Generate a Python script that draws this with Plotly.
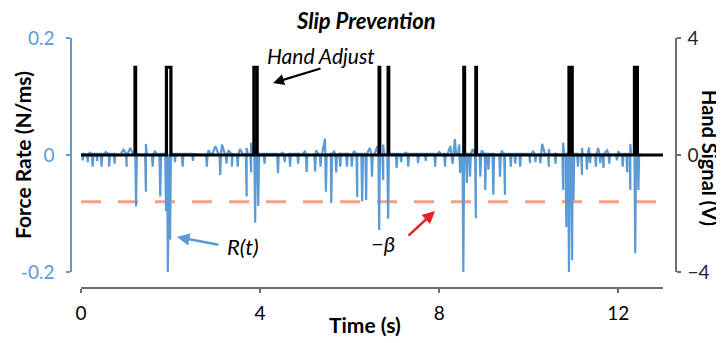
import plotly.graph_objects as go

OFF = 8  # page body margin
W, H = 724 - OFF, 343 - OFF
FONT = "Lato, 'Open Sans', sans-serif"
BLUE = "#5B9BD5"
SALMON = "#F79F81"
GREY = "#6E6E6E"

# ---------------- data ----------------
x_ticks = [0, 4, 8, 12]
y1_ticks = [-0.2, 0, 0.2]
y1_ticktext = ["-0.2", "0", "0.2"]
y2_ticks = [-4, 0, 4]

beta = 0.08

# hand signal pulses (s) and level (V)
pulse_start = [1.206, 1.908, 3.862, 6.659, 6.860, 8.550, 8.820, 10.900, 12.362]
pulse_end = [1.220, 2.008, 3.935, 6.673, 6.874, 8.568, 8.834, 10.972, 12.428]
pulse_level = 3.0
signal_t_end = 13.0

# force-rate R(t): narrow downward spikes (time, value)
spike_t = [0.04, 0.15, 0.26, 0.36, 0.46, 0.63, 0.75, 1.02, 1.23, 1.45, 1.60, 1.77,
           1.90, 1.94, 1.99, 2.10, 2.27, 2.50, 2.81, 3.11, 3.25, 3.37, 3.50, 3.70,
           3.80, 3.89, 3.96, 4.10, 4.40, 4.55, 4.67, 4.85, 5.04, 5.23, 5.35, 5.47,
           5.59, 5.70, 5.79, 5.94, 6.05, 6.17, 6.28, 6.37, 6.50, 6.66, 6.75, 6.86,
           7.05, 7.15, 7.31, 7.53, 7.70, 7.91, 8.13, 8.30, 8.47, 8.54, 8.62, 8.69,
           8.82, 8.92, 9.03, 9.10, 9.21, 9.36, 9.47, 9.60, 9.70, 9.81, 10.03, 10.15,
           10.26, 10.45, 10.60, 10.77, 10.84, 10.90, 10.97, 11.00, 11.10, 11.19, 11.30,
           11.37, 11.50, 11.60, 11.67, 11.80, 11.97, 12.10, 12.20, 12.27, 12.38, 12.45]
spike_v = [-0.009, -0.012, -0.020, -0.010, -0.020, -0.020, -0.015, -0.020, -0.088, -0.063, -0.020, -0.071,
           -0.096, -0.200, -0.145, -0.012, -0.020, -0.010, -0.020, -0.034, -0.015, -0.020, -0.020, -0.071,
           -0.030, -0.116, -0.087, -0.015, -0.031, -0.012, -0.020, -0.015, -0.029, -0.028, -0.020, -0.063,
           -0.082, -0.030, -0.020, -0.020, -0.020, -0.072, -0.079, -0.077, -0.037, -0.128, -0.043, -0.109,
           -0.022, -0.012, -0.020, -0.014, -0.010, -0.020, -0.020, -0.015, -0.031, -0.200, -0.048, -0.037,
           -0.108, -0.037, -0.060, -0.025, -0.068, -0.037, -0.068, -0.020, -0.015, -0.020, -0.014, -0.012,
           -0.014, -0.020, -0.015, -0.060, -0.123, -0.200, -0.180, -0.077, -0.020, -0.034, -0.025,
           -0.014, -0.020, -0.014, -0.022, -0.015, -0.009, -0.020, -0.030, -0.060, -0.168, -0.060]

# force-rate R(t): broader upward humps (time, value)
hump_t = [0.20, 0.55, 0.95, 1.10, 1.45, 1.65, 2.85, 3.00, 3.15, 3.30, 3.55, 3.70, 3.80,
          4.50, 5.00, 5.25, 5.45, 5.65, 6.10, 6.45, 6.62, 6.75, 7.25, 8.00, 8.25, 8.35,
          8.45, 8.75, 8.95, 9.40, 10.10, 10.30, 10.45, 10.77, 11.19, 11.35, 11.55, 11.75,
          12.00, 12.27]
hump_v = [0.004, 0.005, 0.010, 0.012, 0.019, 0.006, 0.008, 0.015, 0.018, 0.008, 0.010, 0.012, 0.021,
          0.004, 0.006, 0.008, 0.028, 0.006, 0.006, 0.012, 0.015, 0.018, 0.004, 0.005, 0.015, 0.027,
          0.018, 0.010, 0.008, 0.006, 0.006, 0.019, 0.010, 0.021, 0.012, 0.013, 0.012, 0.008,
          0.006, 0.019]
r_t_start, r_t_end = 0.0, 12.5

# ---------------- build series ----------------
pts = [(r_t_start, 0.0), (r_t_end, 0.0)]
for t, v in zip(spike_t, spike_v):
    pts += [(t - 0.018, 0.002), (t, v), (t + 0.018, 0.002)]
for t, v in zip(hump_t, hump_v):
    pts += [(t - 0.07, 0.0), (t, v), (t + 0.07, 0.0)]
pts.sort(key=lambda p: p[0])
r_x = [p[0] for p in pts]
r_y = [p[1] for p in pts]

sig_x, sig_y = [0.0], [0.0]
for s, e in zip(pulse_start, pulse_end):
    sig_x += [s, s, e, e]
    sig_y += [0.0, pulse_level, pulse_level, 0.0]
sig_x.append(signal_t_end)
sig_y.append(0.0)


def px(x):
    return (x - OFF) / W


def py(y):
    return 1 - (y - OFF) / H


fig = go.Figure()
fig.add_trace(go.Scatter(x=[0, signal_t_end], y=[-beta, -beta], mode="lines",
                         line=dict(color=SALMON, width=3, dash="20px,17px"),
                         xaxis="x", yaxis="y", showlegend=False, hoverinfo="skip"))
fig.add_trace(go.Scatter(x=r_x, y=r_y, mode="lines",
                         line=dict(color=BLUE, width=2.2),
                         xaxis="x", yaxis="y", showlegend=False))
fig.add_trace(go.Scatter(x=sig_x, y=sig_y, mode="lines",
                         line=dict(color="black", width=3.2),
                         xaxis="x", yaxis="y2", showlegend=False))

fig.update_layout(
    width=W, height=H,
    margin=dict(l=0, r=0, t=0, b=0),
    paper_bgcolor="white", plot_bgcolor="rgba(0,0,0,0)",
    font=dict(family=FONT, color="black"),
    xaxis=dict(domain=[px(81), px(663)], range=[0, 13], anchor="free", position=py(288),
               showgrid=False, zeroline=False, showline=True, linecolor=GREY, linewidth=1.5,
               ticks="outside", ticklen=4, tickcolor=GREY, tickwidth=1.5,
               tickvals=x_ticks, tickfont=dict(size=19, color="black"),
               ticklabelstandoff=4, automargin=False),
    yaxis=dict(domain=[py(272), py(38)], range=[-0.2, 0.2], anchor="free", position=px(71),
               showgrid=False, zeroline=False, showline=True, linecolor=BLUE, linewidth=1.5,
               ticks="outside", ticklen=4, tickcolor=BLUE, tickwidth=1.5,
               tickvals=y1_ticks, ticktext=y1_ticktext,
               tickfont=dict(size=19, color=BLUE), ticklabelstandoff=8, automargin=False),
    yaxis2=dict(range=[-4, 4], overlaying="y", side="right", anchor="free", position=px(676),
                showgrid=False, zeroline=False, showline=True, linecolor=GREY, linewidth=1.5,
                ticks="outside", ticklen=4, tickcolor=GREY, tickwidth=1.5,
                tickvals=y2_ticks, tickfont=dict(size=19, color="#262626"),
                ticklabelstandoff=3, automargin=False),
)


def label(x, y, text, size, angle=0):
    return dict(x=px(x), y=py(y), xref="paper", yref="paper", showarrow=False,
                xanchor="center", yanchor="middle", text=text, textangle=angle,
                font=dict(size=size, family=FONT, color="black"))


def arrow(hx, hy, ax, ay, color, width):
    return dict(x=px(hx), y=py(hy), xref="paper", yref="paper", showarrow=True, text="",
                ax=ax, ay=ay, arrowhead=2, arrowsize=1, arrowwidth=width, arrowcolor=color)


ann = [
    label(366, 20, "<b><i>Slip Prevention</i></b>", 22),
    label(22, 155, "<b>Force Rate (N/ms)</b>", 21, -90),
    label(710, 158, "<b>Hand Signal (V)</b>", 20, 90),
    label(365, 324, "<b>Time (s)</b>", 21),
    label(321, 55, "<i>Hand Adjust</i>", 21),
    label(243, 246, "<i>R(t)</i>", 22),
    label(383, 244, "<i>\u2212\u03b2</i>", 22),
    arrow(273, 83, 49, -15, "black", 2.2),
    arrow(177, 237, 43, 8, BLUE, 2.5),
    arrow(435, 211, -28, 26, "#E8202A", 2.5),
]
fig.update_layout(annotations=ann)

fig.write_html("out.html")
